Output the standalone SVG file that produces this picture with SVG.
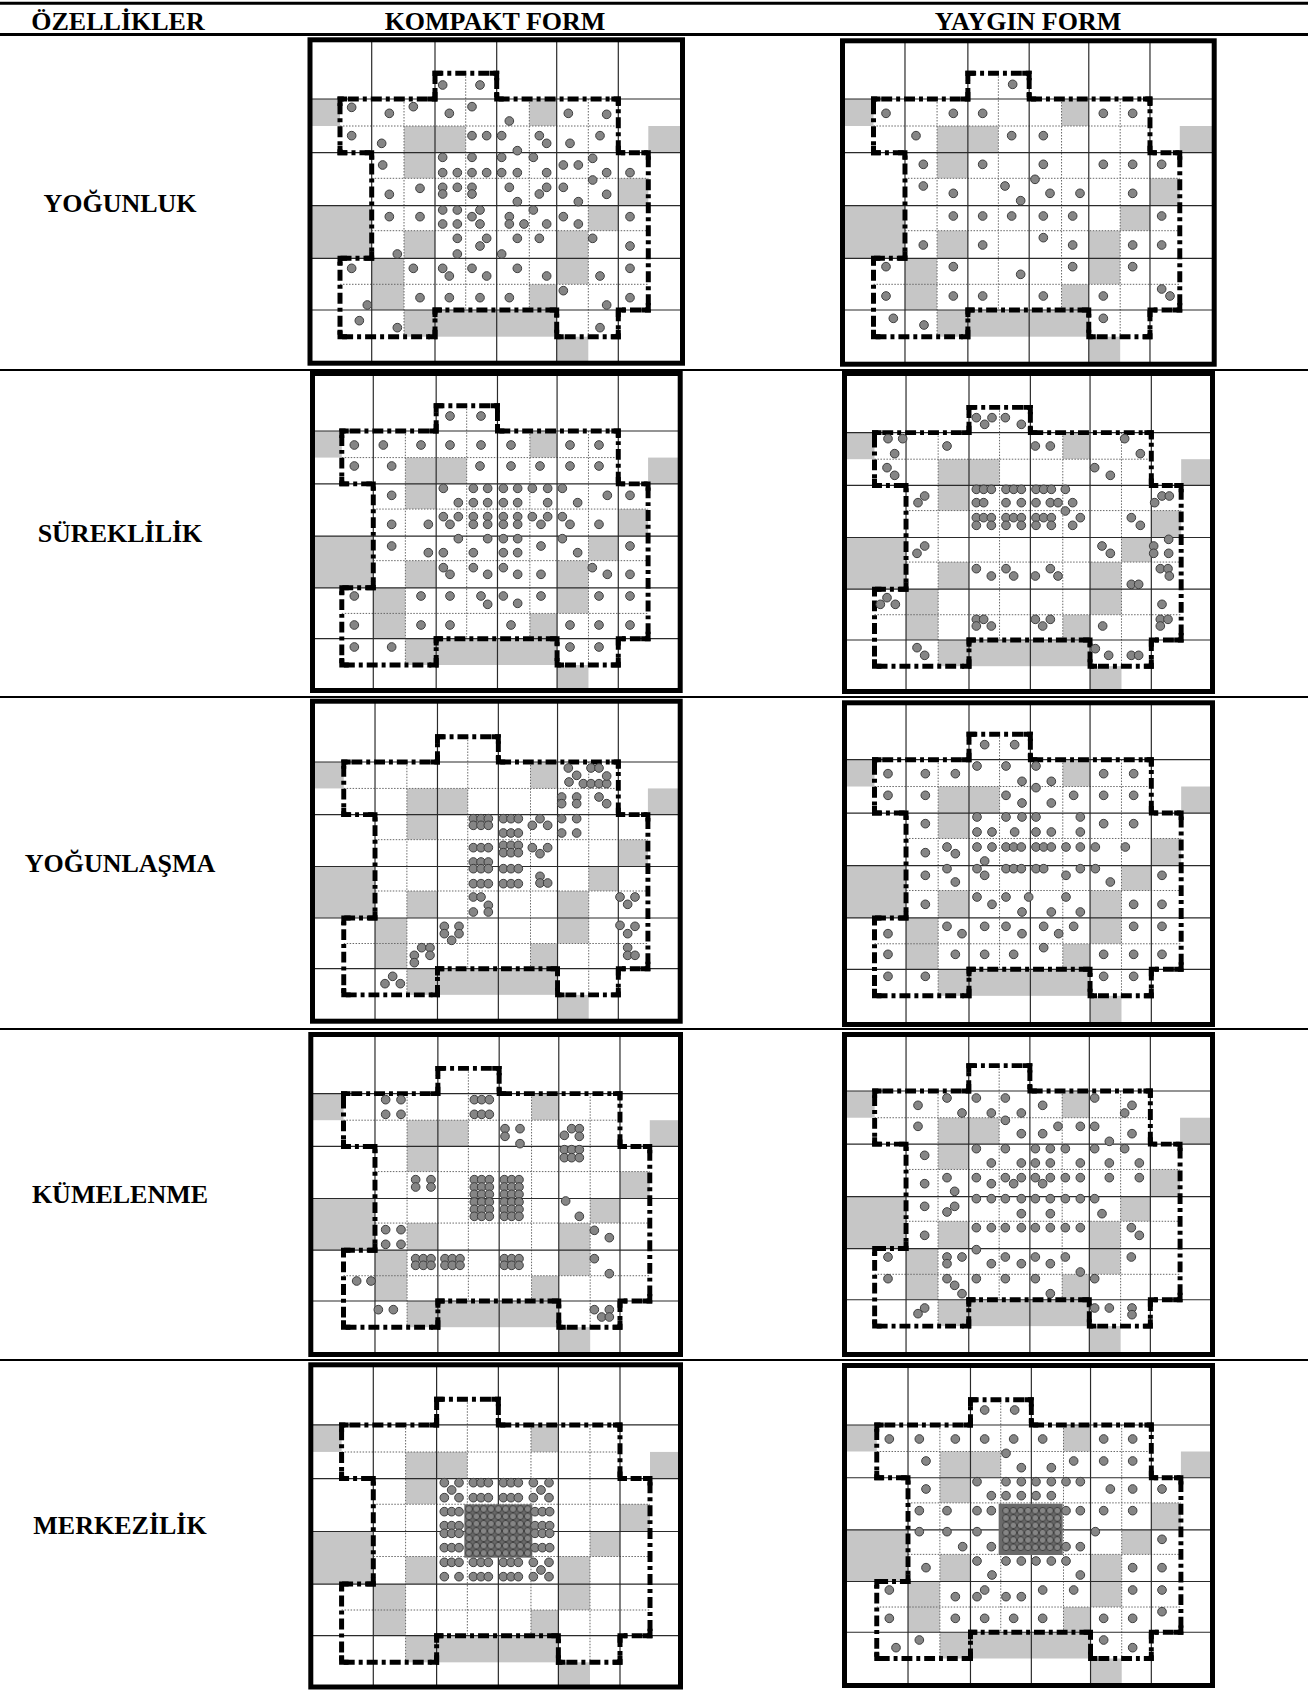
<svg xmlns="http://www.w3.org/2000/svg" xmlns:xlink="http://www.w3.org/1999/xlink" width="1308" height="1690" viewBox="0 0 1308 1690">
<style>
.lbl{font-family:"Liberation Serif","Times New Roman",serif;font-weight:bold;font-size:26px;fill:#000;text-anchor:middle}
.frame{fill:none;stroke:#000;stroke-width:5}
.rule{stroke:#000;fill:none}
.d circle{fill:#858585;stroke:#3e3e3e;stroke-width:3}
.bnd{fill:none;stroke:#000;stroke-width:5;stroke-dasharray:11 4 4 4}
.crn{fill:none;stroke:#000;stroke-width:5;stroke-linejoin:miter}
</style>
<defs>
<g id="base">
<g fill="#c6c6c6">
<rect x="300" y="99" width="40" height="27"/>
<rect x="404" y="126" width="31" height="52.3"/>
<rect x="435" y="126" width="30.7" height="26.7"/>
<rect x="529.3" y="99" width="27.4" height="27"/>
<rect x="648.3" y="126" width="45" height="26.7"/>
<rect x="618.3" y="178.3" width="30" height="27.4"/>
<rect x="300" y="205.7" width="71.7" height="52.6"/>
<rect x="588.3" y="205.7" width="30" height="25"/>
<rect x="404" y="230.7" width="31" height="27.6"/>
<rect x="556.7" y="230.7" width="31.6" height="53.6"/>
<rect x="529.3" y="284.3" width="27.4" height="25.7"/>
<rect x="371.7" y="258.3" width="32.3" height="51.7"/>
<rect x="404" y="310" width="152.7" height="26.7"/>
<rect x="556.7" y="336.7" width="31.6" height="35"/>
</g>
<path stroke="#666" stroke-width="1" stroke-dasharray="1.5 1.5" fill="none" d="M340 126H618.3M371.7 178.3H648.3M371.7 230.7H648.3M340 284.3H648.3M404 99V336.7M465.7 73.3V310M529.3 99V310M588.3 99V336.7"/>
<path stroke="#2a2a2a" stroke-width="1.2" fill="none" d="M371.7 30V375M435 30V375M496.7 30V375M556.7 30V375M618.3 30V375M295 99H695M295 152.7H695M295 205.7H695M295 258.3H695M295 310H695"/>
<path class="bnd" d="M435 99V73.3H496.7V99H618.3V152.7H648.3V310H618.3V336.7H556.7V310H435V336.7H340V258.3H371.7V152.7H340V99Z"/>
<path class="crn" d="M435 80.3V73.3H442M489.7 73.3H496.7V80.3M496.7 92V99H503.7M611.3 99H618.3V106M618.3 145.7V152.7H625.3M641.3 152.7H648.3V159.7M648.3 303V310H641.3M625.3 310H618.3V317M618.3 329.7V336.7H611.3M563.7 336.7H556.7V329.7M556.7 317V310H549.7M442 310H435V317M435 329.7V336.7H428M347 336.7H340V329.7M340 265.3V258.3H347M364.7 258.3H371.7V251.3M371.7 159.7V152.7H364.7M347 152.7H340V145.7M340 106V99H347M428 99H435V92"/>
</g>
<pattern id="pk" patternUnits="userSpaceOnUse" x="511" y="451" width="22" height="22"><rect width="22" height="22" fill="#6a6a6a"/><circle cx="11" cy="11" r="10" fill="#858585" stroke="#363636" stroke-width="2.5"/></pattern>
<pattern id="py" patternUnits="userSpaceOnUse" x="511" y="456" width="22" height="22"><rect width="22" height="22" fill="#6a6a6a"/><circle cx="11" cy="11" r="10" fill="#858585" stroke="#363636" stroke-width="2.5"/></pattern>
<clipPath id="c1k"><rect x="310" y="39.8" width="372.5" height="323.4"/></clipPath>
<clipPath id="c1y"><rect x="842.5" y="40.8" width="371.7" height="323.4"/></clipPath>
<clipPath id="c2k"><rect x="312.5" y="373.5" width="367.7" height="317"/></clipPath>
<clipPath id="c2y"><rect x="844.5" y="373.5" width="368" height="318"/></clipPath>
<clipPath id="c3k"><rect x="312.5" y="701.2" width="367.7" height="320"/></clipPath>
<clipPath id="c3y"><rect x="844.5" y="702.8" width="368" height="321.7"/></clipPath>
<clipPath id="c4k"><rect x="310.8" y="1034.5" width="369.7" height="320"/></clipPath>
<clipPath id="c4y"><rect x="844.5" y="1034.5" width="368" height="320"/></clipPath>
<clipPath id="c5k"><rect x="310.8" y="1364.8" width="369.7" height="322.2"/></clipPath>
<clipPath id="c5y"><rect x="844.5" y="1365.5" width="368" height="320"/></clipPath>
</defs>
<rect width="1308" height="1690" fill="#fff"/>

<g id="table-rules">
<line class="rule" x1="0" y1="3.3" x2="1308" y2="3.3" stroke-width="3"/>
<line class="rule" x1="0" y1="34.6" x2="1308" y2="34.6" stroke-width="3"/>
<line class="rule" x1="0" y1="370" x2="1308" y2="370" stroke-width="2"/>
<line class="rule" x1="0" y1="697" x2="1308" y2="697" stroke-width="2"/>
<line class="rule" x1="0" y1="1029" x2="1308" y2="1029" stroke-width="2"/>
<line class="rule" x1="0" y1="1360" x2="1308" y2="1360" stroke-width="2"/>
</g>

<g id="headers">
<text class="lbl" x="118" y="30">ÖZELLİKLER</text>
<text class="lbl" x="495" y="30">KOMPAKT FORM</text>
<text class="lbl" x="1028" y="30">YAYGIN FORM</text>
</g>
<g id="row-labels">
<text class="lbl" x="120" y="212">YOĞUNLUK</text>
<text class="lbl" x="120" y="542">SÜREKLİLİK</text>
<text class="lbl" x="120" y="872">YOĞUNLAŞMA</text>
<text class="lbl" x="120" y="1203">KÜMELENME</text>
<text class="lbl" x="120" y="1534">MERKEZİLİK</text>
</g>

<g id="p1-kompakt">
<g clip-path="url(#c1k)"><use href="#base" xlink:href="#base"/></g>
<rect class="frame" x="310" y="39.8" width="372.5" height="323.4"/>
<g class="d" transform="translate(300,0) scale(0.333333)">
<circle cx="428" cy="255" r="13"/><circle cx="540" cy="255" r="13"/>
<circle cx="155" cy="322" r="13"/><circle cx="268" cy="340" r="13"/><circle cx="340" cy="320" r="13"/><circle cx="448" cy="340" r="13"/><circle cx="516" cy="320" r="13"/><circle cx="628" cy="363" r="13"/><circle cx="805" cy="340" r="13"/><circle cx="920" cy="343" r="13"/>
<circle cx="155" cy="407" r="13"/><circle cx="245" cy="430" r="13"/><circle cx="516" cy="407" r="13"/><circle cx="560" cy="407" r="13"/><circle cx="605" cy="407" r="13"/><circle cx="652" cy="452" r="13"/><circle cx="718" cy="407" r="13"/><circle cx="740" cy="430" r="13"/><circle cx="810" cy="430" r="13"/><circle cx="900" cy="407" r="13"/>
<circle cx="248" cy="495" r="13"/><circle cx="428" cy="472" r="13"/><circle cx="516" cy="472" r="13"/><circle cx="605" cy="472" r="13"/><circle cx="700" cy="472" r="13"/><circle cx="790" cy="495" r="13"/><circle cx="835" cy="495" r="13"/><circle cx="878" cy="475" r="13"/><circle cx="428" cy="518" r="13"/><circle cx="472" cy="518" r="13"/><circle cx="516" cy="518" r="13"/><circle cx="560" cy="518" r="13"/><circle cx="605" cy="518" r="13"/><circle cx="652" cy="518" r="13"/><circle cx="740" cy="518" r="13"/><circle cx="920" cy="518" r="13"/><circle cx="990" cy="518" r="13"/><circle cx="878" cy="540" r="13"/>
<circle cx="268" cy="583" r="13"/><circle cx="360" cy="565" r="13"/><circle cx="428" cy="562" r="13"/><circle cx="428" cy="582" r="13"/><circle cx="472" cy="562" r="13"/><circle cx="516" cy="562" r="13"/><circle cx="516" cy="582" r="13"/><circle cx="628" cy="562" r="13"/><circle cx="652" cy="605" r="13"/><circle cx="718" cy="582" r="13"/><circle cx="740" cy="562" r="13"/><circle cx="790" cy="562" r="13"/><circle cx="835" cy="605" r="13"/><circle cx="920" cy="583" r="13"/>
<circle cx="268" cy="650" r="13"/><circle cx="360" cy="650" r="13"/><circle cx="428" cy="630" r="13"/><circle cx="472" cy="630" r="13"/><circle cx="540" cy="630" r="13"/><circle cx="516" cy="650" r="13"/><circle cx="428" cy="672" r="13"/><circle cx="472" cy="672" r="13"/><circle cx="540" cy="672" r="13"/><circle cx="628" cy="650" r="13"/><circle cx="628" cy="672" r="13"/><circle cx="672" cy="672" r="13"/><circle cx="700" cy="630" r="13"/><circle cx="740" cy="672" r="13"/><circle cx="790" cy="650" r="13"/><circle cx="835" cy="672" r="13"/><circle cx="990" cy="650" r="13"/>
<circle cx="472" cy="715" r="13"/><circle cx="560" cy="715" r="13"/><circle cx="540" cy="738" r="13"/><circle cx="652" cy="715" r="13"/><circle cx="718" cy="715" r="13"/><circle cx="878" cy="715" r="13"/><circle cx="990" cy="738" r="13"/><circle cx="292" cy="762" r="13"/><circle cx="472" cy="762" r="13"/><circle cx="605" cy="762" r="13"/>
<circle cx="155" cy="805" r="13"/><circle cx="340" cy="805" r="13"/><circle cx="428" cy="805" r="13"/><circle cx="448" cy="828" r="13"/><circle cx="516" cy="805" r="13"/><circle cx="560" cy="828" r="13"/><circle cx="652" cy="805" r="13"/><circle cx="740" cy="828" r="13"/><circle cx="900" cy="828" r="13"/><circle cx="990" cy="805" r="13"/><circle cx="360" cy="893" r="13"/><circle cx="448" cy="893" r="13"/><circle cx="540" cy="893" r="13"/><circle cx="628" cy="893" r="13"/><circle cx="790" cy="872" r="13"/><circle cx="990" cy="893" r="13"/><circle cx="202" cy="915" r="13"/><circle cx="920" cy="915" r="13"/>
<circle cx="178" cy="962" r="13"/><circle cx="292" cy="983" r="13"/><circle cx="900" cy="983" r="13"/>
</g>
</g>

<g id="p1-yaygin">
<g clip-path="url(#c1y)"><use href="#base" xlink:href="#base" transform="matrix(0.9935 0 0 1 535.7 0)"/></g>
<rect class="frame" x="842.5" y="40.8" width="371.7" height="323.4"/>
<g class="d" transform="translate(830,0) scale(0.333333)">
<circle cx="548" cy="253" r="13"/>
<circle cx="168" cy="340" r="13"/><circle cx="370" cy="340" r="13"/><circle cx="458" cy="340" r="13"/><circle cx="820" cy="340" r="13"/><circle cx="908" cy="340" r="13"/>
<circle cx="258" cy="407" r="13"/><circle cx="545" cy="407" r="13"/><circle cx="640" cy="407" r="13"/>
<circle cx="280" cy="493" r="13"/><circle cx="458" cy="493" r="13"/><circle cx="640" cy="493" r="13"/><circle cx="820" cy="493" r="13"/><circle cx="908" cy="493" r="13"/><circle cx="995" cy="493" r="13"/>
<circle cx="280" cy="558" r="13"/><circle cx="370" cy="580" r="13"/><circle cx="525" cy="558" r="13"/><circle cx="615" cy="538" r="13"/><circle cx="660" cy="580" r="13"/><circle cx="750" cy="580" r="13"/><circle cx="908" cy="580" r="13"/><circle cx="572" cy="602" r="13"/>
<circle cx="370" cy="648" r="13"/><circle cx="458" cy="648" r="13"/><circle cx="545" cy="648" r="13"/><circle cx="640" cy="648" r="13"/><circle cx="728" cy="648" r="13"/><circle cx="995" cy="648" r="13"/>
<circle cx="280" cy="735" r="13"/><circle cx="458" cy="735" r="13"/><circle cx="640" cy="713" r="13"/><circle cx="728" cy="735" r="13"/><circle cx="908" cy="735" r="13"/><circle cx="995" cy="735" r="13"/>
<circle cx="168" cy="800" r="13"/><circle cx="370" cy="800" r="13"/><circle cx="728" cy="800" r="13"/><circle cx="908" cy="800" r="13"/><circle cx="572" cy="823" r="13"/>
<circle cx="168" cy="888" r="13"/><circle cx="370" cy="888" r="13"/><circle cx="458" cy="888" r="13"/><circle cx="640" cy="888" r="13"/><circle cx="820" cy="888" r="13"/><circle cx="995" cy="867" r="13"/><circle cx="1020" cy="888" r="13"/>
<circle cx="190" cy="955" r="13"/><circle cx="282" cy="975" r="13"/><circle cx="820" cy="955" r="13"/>
</g>
</g>

<g id="p2-kompakt">
<g clip-path="url(#c2k)"><use href="#base" xlink:href="#base" transform="matrix(0.9935 0 0 0.9844 4 333.55)"/></g>
<rect class="frame" x="312.5" y="373.5" width="367.7" height="317"/>
<g class="d" transform="translate(295,366) scale(0.333333)">
<circle cx="465" cy="150" r="13"/><circle cx="558" cy="150" r="13"/>
<circle cx="178" cy="237" r="13"/><circle cx="265" cy="237" r="13"/><circle cx="378" cy="237" r="13"/><circle cx="465" cy="237" r="13"/><circle cx="558" cy="237" r="13"/><circle cx="648" cy="237" r="13"/><circle cx="825" cy="237" r="13"/><circle cx="912" cy="237" r="13"/>
<circle cx="178" cy="300" r="13"/><circle cx="290" cy="300" r="13"/><circle cx="555" cy="300" r="13"/><circle cx="648" cy="300" r="13"/><circle cx="735" cy="300" r="13"/><circle cx="825" cy="300" r="13"/><circle cx="912" cy="300" r="13"/>
<circle cx="290" cy="388" r="13"/><circle cx="445" cy="367" r="13"/><circle cx="535" cy="367" r="13"/><circle cx="578" cy="367" r="13"/><circle cx="625" cy="367" r="13"/><circle cx="668" cy="367" r="13"/><circle cx="712" cy="367" r="13"/><circle cx="758" cy="367" r="13"/><circle cx="802" cy="367" r="13"/><circle cx="937" cy="388" r="13"/><circle cx="1005" cy="388" r="13"/>
<circle cx="490" cy="410" r="13"/><circle cx="535" cy="410" r="13"/><circle cx="578" cy="410" r="13"/><circle cx="625" cy="410" r="13"/><circle cx="668" cy="410" r="13"/><circle cx="758" cy="410" r="13"/><circle cx="848" cy="410" r="13"/>
<circle cx="445" cy="452" r="13"/><circle cx="490" cy="452" r="13"/><circle cx="535" cy="452" r="13"/><circle cx="578" cy="452" r="13"/><circle cx="625" cy="452" r="13"/><circle cx="668" cy="452" r="13"/><circle cx="712" cy="452" r="13"/><circle cx="758" cy="452" r="13"/><circle cx="802" cy="452" r="13"/>
<circle cx="465" cy="475" r="13"/><circle cx="535" cy="475" r="13"/><circle cx="578" cy="475" r="13"/><circle cx="625" cy="475" r="13"/><circle cx="668" cy="475" r="13"/><circle cx="738" cy="475" r="13"/><circle cx="825" cy="475" r="13"/><circle cx="290" cy="475" r="13"/><circle cx="400" cy="475" r="13"/><circle cx="912" cy="475" r="13"/>
<circle cx="490" cy="518" r="13"/><circle cx="578" cy="518" r="13"/><circle cx="625" cy="518" r="13"/><circle cx="668" cy="518" r="13"/><circle cx="802" cy="518" r="13"/><circle cx="290" cy="540" r="13"/><circle cx="400" cy="560" r="13"/><circle cx="445" cy="560" r="13"/><circle cx="535" cy="560" r="13"/><circle cx="625" cy="560" r="13"/><circle cx="668" cy="560" r="13"/><circle cx="738" cy="540" r="13"/><circle cx="848" cy="560" r="13"/><circle cx="1005" cy="540" r="13"/>
<circle cx="445" cy="605" r="13"/><circle cx="465" cy="625" r="13"/><circle cx="535" cy="605" r="13"/><circle cx="578" cy="625" r="13"/><circle cx="625" cy="605" r="13"/><circle cx="668" cy="625" r="13"/><circle cx="738" cy="625" r="13"/><circle cx="892" cy="605" r="13"/><circle cx="937" cy="625" r="13"/><circle cx="1005" cy="625" r="13"/>
<circle cx="178" cy="690" r="13"/><circle cx="378" cy="690" r="13"/><circle cx="465" cy="690" r="13"/><circle cx="558" cy="690" r="13"/><circle cx="578" cy="715" r="13"/><circle cx="625" cy="690" r="13"/><circle cx="668" cy="712" r="13"/><circle cx="738" cy="690" r="13"/><circle cx="912" cy="690" r="13"/><circle cx="1005" cy="690" r="13"/>
<circle cx="178" cy="777" r="13"/><circle cx="378" cy="777" r="13"/><circle cx="465" cy="777" r="13"/><circle cx="648" cy="777" r="13"/><circle cx="825" cy="777" r="13"/><circle cx="912" cy="777" r="13"/><circle cx="1005" cy="777" r="13"/>
<circle cx="178" cy="843" r="13"/><circle cx="290" cy="843" r="13"/><circle cx="825" cy="843" r="13"/><circle cx="912" cy="843" r="13"/>
</g>
</g>

<g id="p2-yaygin">
<g clip-path="url(#c2y)"><use href="#base" xlink:href="#base" transform="matrix(0.9947 0 0 0.9825 536.3 335.4)"/></g>
<rect class="frame" x="844.5" y="373.5" width="368" height="318"/>
<g class="d" transform="translate(832,366) scale(0.333333)">
<circle cx="433" cy="155" r="13"/><circle cx="458" cy="175" r="13"/><circle cx="480" cy="155" r="13"/><circle cx="520" cy="155" r="13"/><circle cx="568" cy="175" r="13"/>
<circle cx="168" cy="218" r="13"/><circle cx="212" cy="218" r="13"/><circle cx="188" cy="263" r="13"/><circle cx="345" cy="240" r="13"/><circle cx="610" cy="240" r="13"/><circle cx="655" cy="240" r="13"/><circle cx="878" cy="218" r="13"/><circle cx="925" cy="263" r="13"/><circle cx="165" cy="305" r="13"/><circle cx="188" cy="328" r="13"/><circle cx="788" cy="305" r="13"/><circle cx="835" cy="328" r="13"/>
<circle cx="433" cy="370" r="13"/><circle cx="455" cy="370" r="13"/><circle cx="478" cy="370" r="13"/><circle cx="522" cy="370" r="13"/><circle cx="545" cy="370" r="13"/><circle cx="568" cy="370" r="13"/><circle cx="612" cy="370" r="13"/><circle cx="635" cy="370" r="13"/><circle cx="658" cy="370" r="13"/><circle cx="700" cy="370" r="13"/>
<circle cx="433" cy="410" r="13"/><circle cx="455" cy="410" r="13"/><circle cx="522" cy="410" r="13"/><circle cx="568" cy="410" r="13"/><circle cx="612" cy="410" r="13"/><circle cx="655" cy="410" r="13"/><circle cx="678" cy="410" r="13"/><circle cx="722" cy="410" r="13"/><circle cx="700" cy="435" r="13"/>
<circle cx="433" cy="455" r="13"/><circle cx="455" cy="455" r="13"/><circle cx="478" cy="455" r="13"/><circle cx="522" cy="455" r="13"/><circle cx="545" cy="455" r="13"/><circle cx="568" cy="455" r="13"/><circle cx="612" cy="455" r="13"/><circle cx="635" cy="455" r="13"/><circle cx="658" cy="455" r="13"/><circle cx="745" cy="455" r="13"/>
<circle cx="433" cy="478" r="13"/><circle cx="478" cy="478" r="13"/><circle cx="522" cy="478" r="13"/><circle cx="568" cy="478" r="13"/><circle cx="612" cy="478" r="13"/><circle cx="658" cy="478" r="13"/><circle cx="722" cy="478" r="13"/>
<circle cx="278" cy="390" r="13"/><circle cx="258" cy="410" r="13"/><circle cx="968" cy="410" r="13"/><circle cx="990" cy="390" r="13"/><circle cx="1012" cy="390" r="13"/><circle cx="898" cy="455" r="13"/><circle cx="925" cy="478" r="13"/>
<circle cx="278" cy="540" r="13"/><circle cx="255" cy="562" r="13"/><circle cx="810" cy="540" r="13"/><circle cx="835" cy="562" r="13"/><circle cx="1010" cy="520" r="13"/><circle cx="965" cy="540" r="13"/><circle cx="965" cy="562" r="13"/><circle cx="1010" cy="562" r="13"/>
<circle cx="433" cy="608" r="13"/><circle cx="478" cy="630" r="13"/><circle cx="522" cy="608" r="13"/><circle cx="545" cy="630" r="13"/><circle cx="610" cy="630" r="13"/><circle cx="655" cy="608" r="13"/><circle cx="678" cy="630" r="13"/><circle cx="985" cy="608" r="13"/><circle cx="1008" cy="608" r="13"/><circle cx="1012" cy="630" r="13"/><circle cx="898" cy="655" r="13"/><circle cx="920" cy="655" r="13"/>
<circle cx="165" cy="695" r="13"/><circle cx="145" cy="715" r="13"/><circle cx="190" cy="715" r="13"/><circle cx="990" cy="715" r="13"/><circle cx="433" cy="760" r="13"/><circle cx="455" cy="760" r="13"/><circle cx="433" cy="780" r="13"/><circle cx="478" cy="780" r="13"/><circle cx="610" cy="760" r="13"/><circle cx="655" cy="760" r="13"/><circle cx="632" cy="780" r="13"/><circle cx="812" cy="780" r="13"/><circle cx="985" cy="760" r="13"/><circle cx="1008" cy="760" r="13"/><circle cx="985" cy="780" r="13"/>
<circle cx="255" cy="845" r="13"/><circle cx="278" cy="868" r="13"/><circle cx="790" cy="848" r="13"/><circle cx="830" cy="868" r="13"/><circle cx="898" cy="868" r="13"/><circle cx="920" cy="868" r="13"/>
</g>
</g>

<g id="p3-kompakt">
<g clip-path="url(#c3k)"><use href="#base" xlink:href="#base" transform="matrix(0.9866 0 0 0.9796 8.3 665)"/></g>
<rect class="frame" x="312.5" y="701.2" width="367.7" height="320"/>
<g class="d" transform="translate(295,697) scale(0.333333)">
<circle cx="820" cy="213" r="13"/><circle cx="888" cy="213" r="13"/><circle cx="912" cy="213" r="13"/><circle cx="822" cy="255" r="13"/><circle cx="845" cy="235" r="13"/><circle cx="865" cy="260" r="13"/><circle cx="888" cy="260" r="13"/><circle cx="912" cy="260" r="13"/><circle cx="935" cy="260" r="13"/><circle cx="935" cy="237" r="13"/><circle cx="912" cy="300" r="13"/><circle cx="935" cy="320" r="13"/>
<circle cx="800" cy="300" r="13"/><circle cx="800" cy="320" r="13"/><circle cx="845" cy="300" r="13"/><circle cx="845" cy="320" r="13"/>
<circle cx="800" cy="365" r="13"/><circle cx="845" cy="365" r="13"/><circle cx="800" cy="408" r="13"/><circle cx="845" cy="408" r="13"/>
<circle cx="535" cy="365" r="13"/><circle cx="558" cy="365" r="13"/><circle cx="580" cy="365" r="13"/><circle cx="535" cy="385" r="13"/><circle cx="558" cy="385" r="13"/><circle cx="580" cy="385" r="13"/><circle cx="625" cy="365" r="13"/><circle cx="648" cy="365" r="13"/><circle cx="670" cy="365" r="13"/><circle cx="625" cy="408" r="13"/><circle cx="648" cy="408" r="13"/><circle cx="670" cy="408" r="13"/><circle cx="712" cy="385" r="13"/><circle cx="735" cy="365" r="13"/><circle cx="758" cy="385" r="13"/>
<circle cx="535" cy="452" r="13"/><circle cx="558" cy="452" r="13"/><circle cx="580" cy="452" r="13"/><circle cx="625" cy="445" r="13"/><circle cx="648" cy="445" r="13"/><circle cx="670" cy="445" r="13"/><circle cx="625" cy="467" r="13"/><circle cx="648" cy="467" r="13"/><circle cx="670" cy="467" r="13"/><circle cx="712" cy="452" r="13"/><circle cx="735" cy="470" r="13"/><circle cx="758" cy="452" r="13"/>
<circle cx="535" cy="495" r="13"/><circle cx="558" cy="495" r="13"/><circle cx="580" cy="495" r="13"/><circle cx="535" cy="515" r="13"/><circle cx="558" cy="515" r="13"/><circle cx="580" cy="515" r="13"/><circle cx="625" cy="515" r="13"/><circle cx="648" cy="515" r="13"/><circle cx="670" cy="515" r="13"/>
<circle cx="535" cy="560" r="13"/><circle cx="558" cy="560" r="13"/><circle cx="580" cy="560" r="13"/><circle cx="625" cy="560" r="13"/><circle cx="648" cy="560" r="13"/><circle cx="670" cy="560" r="13"/><circle cx="735" cy="538" r="13"/><circle cx="735" cy="558" r="13"/><circle cx="758" cy="558" r="13"/>
<circle cx="535" cy="600" r="13"/><circle cx="558" cy="600" r="13"/><circle cx="580" cy="625" r="13"/><circle cx="580" cy="645" r="13"/><circle cx="535" cy="645" r="13"/>
<circle cx="448" cy="688" r="13"/><circle cx="448" cy="710" r="13"/><circle cx="470" cy="730" r="13"/><circle cx="492" cy="688" r="13"/><circle cx="492" cy="710" r="13"/>
<circle cx="380" cy="752" r="13"/><circle cx="405" cy="752" r="13"/><circle cx="405" cy="775" r="13"/><circle cx="358" cy="775" r="13"/><circle cx="358" cy="797" r="13"/>
<circle cx="270" cy="860" r="13"/><circle cx="293" cy="838" r="13"/><circle cx="316" cy="860" r="13"/>
<circle cx="975" cy="600" r="13"/><circle cx="998" cy="622" r="13"/><circle cx="1020" cy="600" r="13"/>
<circle cx="975" cy="685" r="13"/><circle cx="998" cy="710" r="13"/><circle cx="1020" cy="688" r="13"/>
<circle cx="998" cy="752" r="13"/><circle cx="998" cy="775" r="13"/><circle cx="1020" cy="775" r="13"/>
</g>
</g>

<g id="p3-yaygin">
<g clip-path="url(#c3y)"><use href="#base" xlink:href="#base" transform="matrix(0.9947 0 0 0.9934 536.3 661.35)"/></g>
<rect class="frame" x="844.5" y="702.8" width="368" height="321.7"/>
<g class="d" transform="translate(832,697) scale(0.333333)">
<circle cx="458" cy="143" r="13"/><circle cx="548" cy="143" r="13"/>
<circle cx="168" cy="230" r="13"/><circle cx="280" cy="230" r="13"/><circle cx="370" cy="230" r="13"/><circle cx="435" cy="207" r="13"/><circle cx="522" cy="207" r="13"/><circle cx="612" cy="207" r="13"/><circle cx="570" cy="253" r="13"/><circle cx="658" cy="253" r="13"/><circle cx="612" cy="272" r="13"/><circle cx="815" cy="230" r="13"/><circle cx="905" cy="230" r="13"/>
<circle cx="168" cy="295" r="13"/><circle cx="280" cy="295" r="13"/><circle cx="522" cy="295" r="13"/><circle cx="570" cy="318" r="13"/><circle cx="658" cy="318" r="13"/><circle cx="725" cy="295" r="13"/><circle cx="815" cy="295" r="13"/><circle cx="905" cy="295" r="13"/>
<circle cx="280" cy="380" r="13"/><circle cx="435" cy="360" r="13"/><circle cx="522" cy="360" r="13"/><circle cx="570" cy="360" r="13"/><circle cx="612" cy="360" r="13"/><circle cx="745" cy="360" r="13"/><circle cx="815" cy="380" r="13"/><circle cx="905" cy="380" r="13"/>
<circle cx="435" cy="405" r="13"/><circle cx="480" cy="405" r="13"/><circle cx="548" cy="405" r="13"/><circle cx="612" cy="405" r="13"/><circle cx="658" cy="405" r="13"/><circle cx="745" cy="405" r="13"/>
<circle cx="280" cy="467" r="13"/><circle cx="345" cy="450" r="13"/><circle cx="370" cy="470" r="13"/><circle cx="435" cy="450" r="13"/><circle cx="480" cy="450" r="13"/><circle cx="522" cy="450" r="13"/><circle cx="545" cy="450" r="13"/><circle cx="568" cy="450" r="13"/><circle cx="612" cy="450" r="13"/><circle cx="635" cy="450" r="13"/><circle cx="658" cy="450" r="13"/><circle cx="702" cy="450" r="13"/><circle cx="745" cy="450" r="13"/><circle cx="790" cy="450" r="13"/><circle cx="880" cy="450" r="13"/>
<circle cx="458" cy="492" r="13"/>
<circle cx="280" cy="535" r="13"/><circle cx="345" cy="515" r="13"/><circle cx="370" cy="555" r="13"/><circle cx="435" cy="515" r="13"/><circle cx="458" cy="535" r="13"/><circle cx="522" cy="515" r="13"/><circle cx="545" cy="515" r="13"/><circle cx="568" cy="515" r="13"/><circle cx="612" cy="515" r="13"/><circle cx="635" cy="515" r="13"/><circle cx="702" cy="535" r="13"/><circle cx="745" cy="515" r="13"/><circle cx="790" cy="515" r="13"/><circle cx="835" cy="555" r="13"/><circle cx="990" cy="535" r="13"/>
<circle cx="280" cy="622" r="13"/><circle cx="435" cy="600" r="13"/><circle cx="480" cy="622" r="13"/><circle cx="522" cy="600" r="13"/><circle cx="570" cy="645" r="13"/><circle cx="590" cy="600" r="13"/><circle cx="658" cy="645" r="13"/><circle cx="702" cy="600" r="13"/><circle cx="745" cy="645" r="13"/><circle cx="905" cy="622" r="13"/><circle cx="990" cy="622" r="13"/>
<circle cx="168" cy="710" r="13"/><circle cx="345" cy="688" r="13"/><circle cx="390" cy="710" r="13"/><circle cx="458" cy="688" r="13"/><circle cx="522" cy="688" r="13"/><circle cx="570" cy="710" r="13"/><circle cx="635" cy="688" r="13"/><circle cx="680" cy="710" r="13"/><circle cx="725" cy="688" r="13"/><circle cx="905" cy="688" r="13"/><circle cx="990" cy="688" r="13"/>
<circle cx="168" cy="772" r="13"/><circle cx="370" cy="772" r="13"/><circle cx="458" cy="772" r="13"/><circle cx="545" cy="772" r="13"/><circle cx="635" cy="752" r="13"/><circle cx="815" cy="772" r="13"/><circle cx="905" cy="772" r="13"/><circle cx="990" cy="772" r="13"/>
<circle cx="168" cy="838" r="13"/><circle cx="280" cy="838" r="13"/><circle cx="815" cy="838" r="13"/><circle cx="905" cy="838" r="13"/>
</g>
</g>

<g id="p4-kompakt">
<g clip-path="url(#c4k)"><use href="#base" xlink:href="#base" transform="matrix(0.9935 0 0 0.9825 5.7 996.4)"/></g>
<rect class="frame" x="310.8" y="1034.5" width="369.7" height="320"/>
<g class="d" transform="translate(295,1027) scale(0.333333)">
<circle cx="272" cy="218" r="13"/><circle cx="318" cy="218" r="13"/><circle cx="272" cy="262" r="13"/><circle cx="318" cy="262" r="13"/>
<circle cx="538" cy="218" r="13"/><circle cx="560" cy="218" r="13"/><circle cx="583" cy="218" r="13"/><circle cx="538" cy="262" r="13"/><circle cx="560" cy="262" r="13"/><circle cx="583" cy="262" r="13"/>
<circle cx="630" cy="305" r="13"/><circle cx="675" cy="305" r="13"/><circle cx="630" cy="328" r="13"/><circle cx="675" cy="350" r="13"/>
<circle cx="808" cy="325" r="13"/><circle cx="830" cy="305" r="13"/><circle cx="853" cy="305" r="13"/><circle cx="853" cy="328" r="13"/><circle cx="808" cy="368" r="13"/><circle cx="830" cy="368" r="13"/><circle cx="853" cy="368" r="13"/><circle cx="808" cy="392" r="13"/><circle cx="830" cy="392" r="13"/><circle cx="853" cy="392" r="13"/>
<circle cx="362" cy="458" r="13"/><circle cx="408" cy="458" r="13"/><circle cx="362" cy="480" r="13"/><circle cx="408" cy="480" r="13"/>
<circle cx="538" cy="458" r="13"/><circle cx="560" cy="458" r="13"/><circle cx="583" cy="458" r="13"/><circle cx="538" cy="480" r="13"/><circle cx="560" cy="480" r="13"/><circle cx="583" cy="480" r="13"/><circle cx="538" cy="502" r="13"/><circle cx="560" cy="502" r="13"/><circle cx="583" cy="502" r="13"/><circle cx="538" cy="525" r="13"/><circle cx="560" cy="525" r="13"/><circle cx="583" cy="525" r="13"/><circle cx="538" cy="547" r="13"/><circle cx="560" cy="547" r="13"/><circle cx="583" cy="547" r="13"/><circle cx="538" cy="568" r="13"/><circle cx="560" cy="568" r="13"/><circle cx="583" cy="568" r="13"/>
<circle cx="628" cy="458" r="13"/><circle cx="650" cy="458" r="13"/><circle cx="672" cy="458" r="13"/><circle cx="628" cy="480" r="13"/><circle cx="650" cy="480" r="13"/><circle cx="672" cy="480" r="13"/><circle cx="628" cy="502" r="13"/><circle cx="650" cy="502" r="13"/><circle cx="672" cy="502" r="13"/><circle cx="628" cy="525" r="13"/><circle cx="650" cy="525" r="13"/><circle cx="672" cy="525" r="13"/><circle cx="628" cy="547" r="13"/><circle cx="650" cy="547" r="13"/><circle cx="672" cy="547" r="13"/><circle cx="628" cy="568" r="13"/><circle cx="650" cy="568" r="13"/><circle cx="672" cy="568" r="13"/>
<circle cx="812" cy="522" r="13"/><circle cx="853" cy="568" r="13"/>
<circle cx="272" cy="608" r="13"/><circle cx="318" cy="608" r="13"/><circle cx="272" cy="652" r="13"/><circle cx="318" cy="652" r="13"/>
<circle cx="898" cy="610" r="13"/><circle cx="943" cy="632" r="13"/>
<circle cx="362" cy="695" r="13"/><circle cx="385" cy="695" r="13"/><circle cx="408" cy="695" r="13"/><circle cx="362" cy="715" r="13"/><circle cx="385" cy="715" r="13"/><circle cx="408" cy="715" r="13"/>
<circle cx="450" cy="695" r="13"/><circle cx="472" cy="695" r="13"/><circle cx="495" cy="695" r="13"/><circle cx="450" cy="715" r="13"/><circle cx="472" cy="715" r="13"/><circle cx="495" cy="715" r="13"/>
<circle cx="628" cy="695" r="13"/><circle cx="650" cy="695" r="13"/><circle cx="672" cy="695" r="13"/><circle cx="628" cy="715" r="13"/><circle cx="650" cy="715" r="13"/><circle cx="672" cy="715" r="13"/>
<circle cx="898" cy="695" r="13"/><circle cx="943" cy="740" r="13"/>
<circle cx="185" cy="762" r="13"/><circle cx="228" cy="762" r="13"/>
<circle cx="250" cy="848" r="13"/><circle cx="295" cy="848" r="13"/>
<circle cx="898" cy="848" r="13"/><circle cx="920" cy="870" r="13"/><circle cx="943" cy="848" r="13"/><circle cx="943" cy="870" r="13"/>
</g>
</g>

<g id="p4-yaygin">
<g clip-path="url(#c4y)"><use href="#base" xlink:href="#base" transform="matrix(0.9907 0 0 0.9891 537.8 993.1)"/></g>
<rect class="frame" x="844.5" y="1034.5" width="368" height="320"/>
<g class="d" transform="translate(832,1027) scale(0.333333)">
<circle cx="258" cy="235" r="13"/><circle cx="345" cy="213" r="13"/><circle cx="390" cy="258" r="13"/><circle cx="433" cy="213" r="13"/><circle cx="478" cy="258" r="13"/><circle cx="520" cy="213" r="13"/><circle cx="568" cy="258" r="13"/><circle cx="520" cy="280" r="13"/><circle cx="632" cy="235" r="13"/><circle cx="788" cy="213" r="13"/><circle cx="878" cy="258" r="13"/><circle cx="900" cy="235" r="13"/>
<circle cx="258" cy="298" r="13"/><circle cx="568" cy="320" r="13"/><circle cx="632" cy="320" r="13"/><circle cx="678" cy="298" r="13"/><circle cx="745" cy="298" r="13"/><circle cx="788" cy="298" r="13"/><circle cx="832" cy="343" r="13"/><circle cx="900" cy="320" r="13"/>
<circle cx="278" cy="385" r="13"/><circle cx="433" cy="365" r="13"/><circle cx="520" cy="365" r="13"/><circle cx="610" cy="365" r="13"/><circle cx="655" cy="365" r="13"/><circle cx="700" cy="365" r="13"/><circle cx="788" cy="365" r="13"/><circle cx="878" cy="365" r="13"/>
<circle cx="478" cy="408" r="13"/><circle cx="568" cy="408" r="13"/><circle cx="610" cy="408" r="13"/><circle cx="655" cy="408" r="13"/><circle cx="745" cy="408" r="13"/><circle cx="832" cy="408" r="13"/><circle cx="922" cy="408" r="13"/>
<circle cx="278" cy="470" r="13"/><circle cx="345" cy="452" r="13"/><circle cx="368" cy="493" r="13"/><circle cx="433" cy="452" r="13"/><circle cx="478" cy="470" r="13"/><circle cx="520" cy="452" r="13"/><circle cx="545" cy="470" r="13"/><circle cx="568" cy="452" r="13"/><circle cx="610" cy="452" r="13"/><circle cx="632" cy="470" r="13"/><circle cx="655" cy="452" r="13"/><circle cx="700" cy="452" r="13"/><circle cx="745" cy="452" r="13"/><circle cx="832" cy="452" r="13"/><circle cx="922" cy="452" r="13"/>
<circle cx="278" cy="538" r="13"/><circle cx="345" cy="555" r="13"/><circle cx="368" cy="538" r="13"/><circle cx="433" cy="515" r="13"/><circle cx="478" cy="515" r="13"/><circle cx="520" cy="515" r="13"/><circle cx="568" cy="515" r="13"/><circle cx="610" cy="515" r="13"/><circle cx="655" cy="515" r="13"/><circle cx="700" cy="515" r="13"/><circle cx="745" cy="515" r="13"/><circle cx="788" cy="515" r="13"/><circle cx="810" cy="560" r="13"/><circle cx="568" cy="560" r="13"/><circle cx="655" cy="560" r="13"/>
<circle cx="278" cy="625" r="13"/><circle cx="433" cy="602" r="13"/><circle cx="478" cy="602" r="13"/><circle cx="520" cy="602" r="13"/><circle cx="568" cy="602" r="13"/><circle cx="610" cy="602" r="13"/><circle cx="655" cy="602" r="13"/><circle cx="700" cy="602" r="13"/><circle cx="745" cy="602" r="13"/><circle cx="898" cy="602" r="13"/><circle cx="922" cy="625" r="13"/>
<circle cx="168" cy="690" r="13"/><circle cx="345" cy="690" r="13"/><circle cx="345" cy="710" r="13"/><circle cx="390" cy="690" r="13"/><circle cx="433" cy="668" r="13"/><circle cx="478" cy="710" r="13"/><circle cx="520" cy="690" r="13"/><circle cx="568" cy="710" r="13"/><circle cx="610" cy="690" r="13"/><circle cx="655" cy="710" r="13"/><circle cx="700" cy="690" r="13"/><circle cx="745" cy="735" r="13"/><circle cx="898" cy="690" r="13"/>
<circle cx="168" cy="755" r="13"/><circle cx="345" cy="755" r="13"/><circle cx="368" cy="775" r="13"/><circle cx="390" cy="800" r="13"/><circle cx="433" cy="755" r="13"/><circle cx="520" cy="755" r="13"/><circle cx="610" cy="755" r="13"/><circle cx="655" cy="800" r="13"/><circle cx="788" cy="755" r="13"/>
<circle cx="258" cy="860" r="13"/><circle cx="278" cy="843" r="13"/><circle cx="788" cy="843" r="13"/><circle cx="832" cy="843" r="13"/><circle cx="900" cy="843" r="13"/><circle cx="900" cy="863" r="13"/>
</g>
</g>

<g id="p5-kompakt">
<g clip-path="url(#c5k)"><use href="#base" xlink:href="#base" transform="matrix(1.0004 0 0 0.9986 1.45 1326.1)"/></g>
<rect class="frame" x="310.8" y="1364.8" width="369.7" height="322.2"/>
<g class="d" transform="translate(295,1355) scale(0.333333)">
<rect x="508" y="448" width="204" height="160" fill="#6a6a6a"/>
<rect x="511" y="451" width="198" height="154" fill="url(#pk)"/>
<circle cx="448" cy="383" r="13"/><circle cx="492" cy="383" r="13"/><circle cx="470" cy="405" r="13"/><circle cx="448" cy="428" r="13"/><circle cx="492" cy="428" r="13"/>
<circle cx="535" cy="383" r="13"/><circle cx="558" cy="383" r="13"/><circle cx="580" cy="383" r="13"/><circle cx="625" cy="383" r="13"/><circle cx="648" cy="383" r="13"/><circle cx="670" cy="383" r="13"/>
<circle cx="535" cy="428" r="13"/><circle cx="558" cy="428" r="13"/><circle cx="580" cy="428" r="13"/><circle cx="625" cy="428" r="13"/><circle cx="648" cy="428" r="13"/><circle cx="670" cy="428" r="13"/>
<circle cx="715" cy="383" r="13"/><circle cx="762" cy="383" r="13"/><circle cx="738" cy="405" r="13"/><circle cx="715" cy="428" r="13"/><circle cx="762" cy="428" r="13"/>
<circle cx="448" cy="470" r="13"/><circle cx="470" cy="470" r="13"/><circle cx="492" cy="470" r="13"/><circle cx="448" cy="512" r="13"/><circle cx="470" cy="512" r="13"/><circle cx="492" cy="512" r="13"/><circle cx="448" cy="535" r="13"/><circle cx="470" cy="535" r="13"/><circle cx="492" cy="535" r="13"/><circle cx="448" cy="578" r="13"/><circle cx="470" cy="578" r="13"/><circle cx="492" cy="578" r="13"/>
<circle cx="720" cy="470" r="13"/><circle cx="742" cy="470" r="13"/><circle cx="764" cy="470" r="13"/><circle cx="720" cy="512" r="13"/><circle cx="742" cy="512" r="13"/><circle cx="764" cy="512" r="13"/><circle cx="720" cy="535" r="13"/><circle cx="742" cy="535" r="13"/><circle cx="764" cy="535" r="13"/><circle cx="720" cy="578" r="13"/><circle cx="742" cy="578" r="13"/><circle cx="764" cy="578" r="13"/>
<circle cx="448" cy="622" r="13"/><circle cx="470" cy="622" r="13"/><circle cx="492" cy="622" r="13"/><circle cx="535" cy="622" r="13"/><circle cx="558" cy="622" r="13"/><circle cx="580" cy="622" r="13"/><circle cx="625" cy="622" r="13"/><circle cx="648" cy="622" r="13"/><circle cx="670" cy="622" r="13"/><circle cx="715" cy="622" r="13"/><circle cx="762" cy="622" r="13"/><circle cx="738" cy="645" r="13"/>
<circle cx="448" cy="665" r="13"/><circle cx="492" cy="665" r="13"/><circle cx="535" cy="665" r="13"/><circle cx="558" cy="665" r="13"/><circle cx="580" cy="665" r="13"/><circle cx="625" cy="665" r="13"/><circle cx="648" cy="665" r="13"/><circle cx="670" cy="665" r="13"/><circle cx="715" cy="665" r="13"/><circle cx="762" cy="665" r="13"/>
</g>
</g>

<g id="p5-yaygin">
<g clip-path="url(#c5y)"><use href="#base" xlink:href="#base" transform="matrix(0.9866 0 0 0.9825 541.3 1327.7)"/></g>
<rect class="frame" x="844.5" y="1365.5" width="368" height="320"/>
<g class="d" transform="translate(832,1355) scale(0.333333)">
<rect x="500" y="446" width="192" height="154" fill="#6a6a6a"/>
<rect x="511" y="456" width="176" height="132" fill="url(#py)"/>
<circle cx="458" cy="165" r="13"/><circle cx="548" cy="165" r="13"/>
<circle cx="172" cy="252" r="13"/><circle cx="262" cy="252" r="13"/><circle cx="370" cy="252" r="13"/><circle cx="458" cy="252" r="13"/><circle cx="545" cy="252" r="13"/><circle cx="632" cy="252" r="13"/><circle cx="815" cy="252" r="13"/><circle cx="902" cy="252" r="13"/>
<circle cx="282" cy="318" r="13"/><circle cx="522" cy="295" r="13"/><circle cx="568" cy="338" r="13"/><circle cx="658" cy="338" r="13"/><circle cx="725" cy="318" r="13"/><circle cx="815" cy="318" r="13"/><circle cx="902" cy="318" r="13"/>
<circle cx="282" cy="402" r="13"/><circle cx="435" cy="380" r="13"/><circle cx="522" cy="380" r="13"/><circle cx="568" cy="380" r="13"/><circle cx="612" cy="380" r="13"/><circle cx="658" cy="380" r="13"/><circle cx="702" cy="380" r="13"/><circle cx="745" cy="380" r="13"/><circle cx="835" cy="402" r="13"/><circle cx="902" cy="402" r="13"/><circle cx="990" cy="402" r="13"/>
<circle cx="478" cy="422" r="13"/><circle cx="522" cy="422" r="13"/><circle cx="568" cy="422" r="13"/><circle cx="612" cy="422" r="13"/><circle cx="658" cy="422" r="13"/>
<circle cx="262" cy="467" r="13"/><circle cx="345" cy="467" r="13"/><circle cx="435" cy="467" r="13"/><circle cx="478" cy="467" r="13"/><circle cx="702" cy="467" r="13"/><circle cx="745" cy="467" r="13"/><circle cx="815" cy="467" r="13"/><circle cx="902" cy="467" r="13"/>
<circle cx="262" cy="530" r="13"/><circle cx="345" cy="530" r="13"/><circle cx="435" cy="530" r="13"/><circle cx="790" cy="530" r="13"/><circle cx="990" cy="553" r="13"/>
<circle cx="392" cy="575" r="13"/><circle cx="478" cy="575" r="13"/><circle cx="702" cy="575" r="13"/><circle cx="745" cy="575" r="13"/>
<circle cx="282" cy="638" r="13"/><circle cx="435" cy="618" r="13"/><circle cx="522" cy="618" r="13"/><circle cx="568" cy="618" r="13"/><circle cx="612" cy="618" r="13"/><circle cx="658" cy="618" r="13"/><circle cx="702" cy="618" r="13"/><circle cx="480" cy="660" r="13"/><circle cx="745" cy="660" r="13"/><circle cx="902" cy="638" r="13"/><circle cx="990" cy="638" r="13"/>
<circle cx="172" cy="705" r="13"/><circle cx="370" cy="725" r="13"/><circle cx="435" cy="725" r="13"/><circle cx="458" cy="705" r="13"/><circle cx="522" cy="725" r="13"/><circle cx="568" cy="725" r="13"/><circle cx="632" cy="705" r="13"/><circle cx="725" cy="705" r="13"/><circle cx="902" cy="705" r="13"/><circle cx="990" cy="705" r="13"/>
<circle cx="172" cy="790" r="13"/><circle cx="370" cy="790" r="13"/><circle cx="458" cy="790" r="13"/><circle cx="545" cy="790" r="13"/><circle cx="632" cy="790" r="13"/><circle cx="815" cy="790" r="13"/><circle cx="902" cy="790" r="13"/><circle cx="990" cy="770" r="13"/>
<circle cx="262" cy="855" r="13"/><circle cx="192" cy="878" r="13"/><circle cx="815" cy="855" r="13"/><circle cx="902" cy="878" r="13"/>
</g>
</g>
</svg>
